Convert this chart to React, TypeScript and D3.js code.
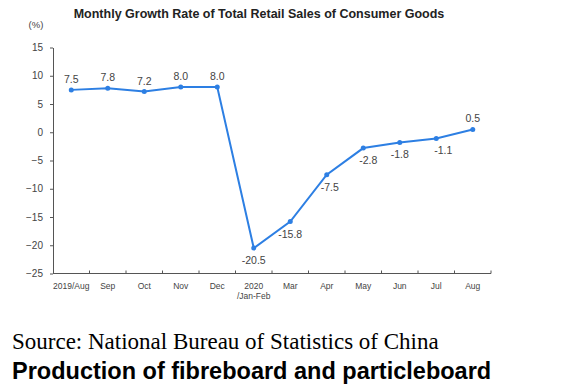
import { useEffect, useRef } from "react";
import * as d3 from "d3";

const months = ["2019/Aug", "Sep", "Oct", "Nov", "Dec", "2020\n/Jan-Feb", "Mar", "Apr", "May", "Jun", "Jul", "Aug"];
const growth = [7.5, 7.8, 7.2, 8.0, 8.0, -20.5, -15.8, -7.5, -2.8, -1.8, -1.1, 0.5];
const yTicks = [15, 10, 5, 0, -5, -10, -15, -20, -25];
// label offsets: above for positives, below for negatives
const labelDx = [0, 0, 0, 0, 0, 0, 0, 3, 5, 0, 7, 0];

export default function App() {
	const svgRef = useRef<SVGSVGElement>(null);

	useEffect(() => {
		if (!svgRef.current) return;
		const svg = d3.select(svgRef.current);
		svg.selectAll("*").remove();

		const left = 53;
		const right = 491;
		const top = 47.5;
		const bottom = 273.5;

		const x = d3.scaleBand().domain(months).range([left, right]);
		const y = d3.scaleLinear().domain([-25, 15]).range([bottom, top]);
		const blue = "#2d7fe3";
		const grey = "#444";

		svg
			.append("text")
			.attr("x", 259)
			.attr("y", 18)
			.attr("text-anchor", "middle")
			.attr("font-family", "Liberation Sans, Arial, sans-serif")
			.attr("font-weight", "bold")
			.attr("font-size", 12.5)
			.attr("fill", "#222")
			.text("Monthly Growth Rate of Total Retail Sales of Consumer Goods");

		svg
			.append("text")
			.attr("x", 36)
			.attr("y", 28)
			.attr("text-anchor", "middle")
			.attr("font-family", "Liberation Sans, Arial, sans-serif")
			.attr("font-size", 9.5)
			.attr("fill", grey)
			.text("(%)");

		// y axis
		const yAxis = svg
			.append("g")
			.attr("transform", `translate(${left},0)`)
			.call(d3.axisLeft(y).tickValues(yTicks).tickSize(3).tickPadding(7).tickSizeOuter(0));
		yAxis.select(".domain").attr("stroke", "#555");
		yAxis.selectAll(".tick line").attr("stroke", "#555");
		yAxis
			.selectAll(".tick text")
			.attr("font-family", "Liberation Sans, Arial, sans-serif")
			.attr("font-size", 10)
			.attr("fill", grey);

		// x axis
		const xAxis = svg.append("g").attr("transform", `translate(0,${bottom})`);
		xAxis.append("line").attr("x1", left).attr("x2", right).attr("stroke", "#555");
		const edges = months.map((m) => (x(m) as number) + x.bandwidth());
		xAxis
			.selectAll("line.tick")
			.data(edges)
			.join("line")
			.attr("class", "tick")
			.attr("x1", (d) => d)
			.attr("x2", (d) => d)
			.attr("y1", 0)
			.attr("y2", -3)
			.attr("stroke", "#555");
		const xl = xAxis
			.selectAll("text.lab")
			.data(months)
			.join("text")
			.attr("class", "lab")
			.attr("x", (d) => (x(d) as number) + x.bandwidth() / 2)
			.attr("y", 15)
			.attr("text-anchor", "middle")
			.attr("font-family", "Liberation Sans, Arial, sans-serif")
			.attr("font-size", 8.5)
			.attr("fill", grey);
		xl.each(function (d) {
			const parts = d.split("\n");
			parts.forEach((p, i) => {
				d3.select(this)
					.append("tspan")
					.attr("x", (x(d) as number) + x.bandwidth() / 2)
					.attr("dy", i === 0 ? 0 : 10.5)
					.text(p);
			});
		});

		const cx = (i: number) => (x(months[i]) as number) + x.bandwidth() / 2;

		const line = d3
			.line<number>()
			.x((_, i) => cx(i))
			.y((d) => y(d));

		svg
			.append("path")
			.datum(growth)
			.attr("d", line)
			.attr("fill", "none")
			.attr("stroke", blue)
			.attr("stroke-width", 2);

		svg
			.selectAll("circle.pt")
			.data(growth)
			.join("circle")
			.attr("class", "pt")
			.attr("cx", (_, i) => cx(i))
			.attr("cy", (d) => y(d))
			.attr("r", 2.5)
			.attr("fill", blue);

		svg
			.selectAll("text.val")
			.data(growth)
			.join("text")
			.attr("class", "val")
			.attr("x", (_, i) => cx(i) + labelDx[i])
			.attr("y", (d) => (d >= 0 ? y(d) - 7 : y(d) + 16))
			.attr("text-anchor", "middle")
			.attr("font-family", "Liberation Sans, Arial, sans-serif")
			.attr("font-size", 10.5)
			.attr("fill", grey)
			.text((d) => d.toFixed(1));

		svg
			.append("text")
			.attr("x", 12)
			.attr("y", 349)
			.attr("font-family", "Liberation Serif, Times New Roman, serif")
			.attr("font-size", 23)
			.attr("fill", "#000")
			.text("Source: National Bureau of Statistics of China");

		svg
			.append("text")
			.attr("x", 12)
			.attr("y", 379)
			.attr("font-family", "Liberation Sans, Arial, sans-serif")
			.attr("font-weight", "bold")
			.attr("font-size", 23.5)
			.attr("fill", "#000")
			.text("Production of fibreboard and particleboard");
	}, []);

	return (
		<svg
			ref={svgRef}
			width={568}
			height={392}
			style={{ position: "absolute", left: 0, top: 0, background: "#fff" }}
		/>
	);
}
